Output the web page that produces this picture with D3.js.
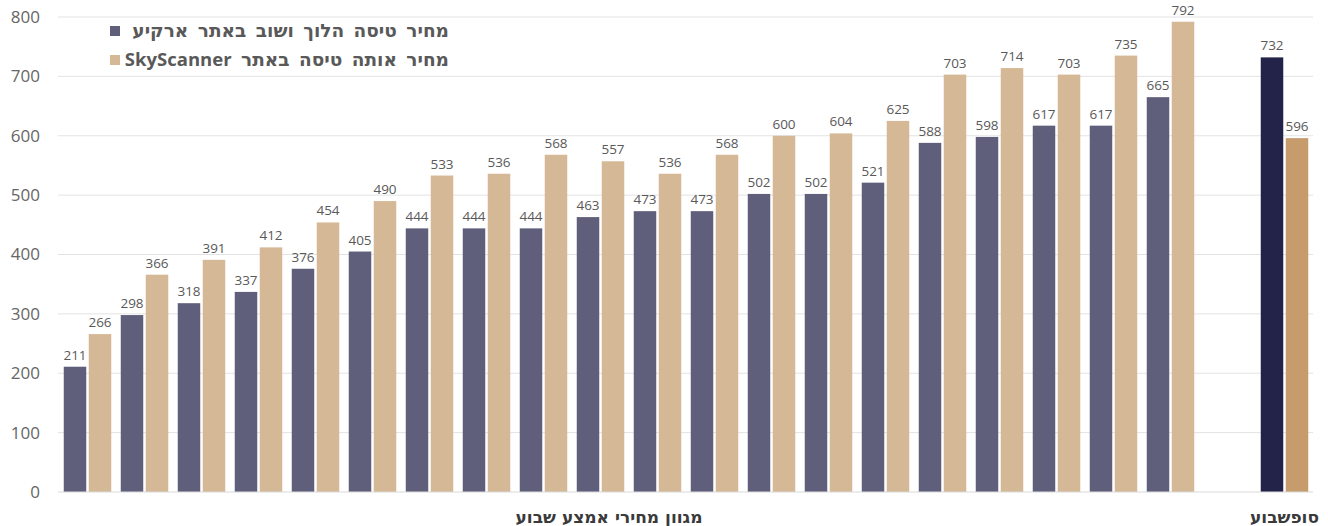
<!DOCTYPE html>
<html lang="he">
<head>
<meta charset="utf-8">
<script src="https://cdn.jsdelivr.net/npm/d3@7"></script>
<style>
  html, body { margin: 0; padding: 0; background: #fff; }
  svg { display: block; font-family: "Open Sans", "Liberation Sans", "DejaVu Sans", sans-serif; }
  .heb { font-family: "DejaVu Sans", "Open Sans", sans-serif; font-weight: bold; }
  .latin { font-family: "Open Sans", "Liberation Sans", sans-serif; font-weight: bold; }
</style>
</head>
<body>
<svg id="chart" width="1328" height="526"></svg>
<script>
// Price comparison: Arkia round-trip fare vs. the same flight on SkyScanner
const midweekArkia      = [211, 298, 318, 337, 376, 405, 444, 444, 444, 463, 473, 473, 502, 502, 521, 588, 598, 617, 617, 665];
const midweekSkyScanner = [266, 366, 391, 412, 454, 490, 533, 536, 568, 557, 536, 568, 600, 604, 625, 703, 714, 703, 735, 792];
const weekendArkia      = [732];
const weekendSkyScanner = [596];

const categoryLabels = ["מגוון מחירי אמצע שבוע", "סופשבוע"];
// Legend names split into Hebrew part and Latin brand part
const seriesNames = [
  { he: "מחיר טיסה הלוך ושוב באתר ארקיע", latin: "" },
  { he: "מחיר אותה טיסה באתר ", latin: "SkyScanner" }
];
const yTicks = [0, 100, 200, 300, 400, 500, 600, 700, 800];

const colors = {
  arkia: "#605f7b",
  sky: "#d5b996",
  weekendArkia: "#23234a",
  weekendSky: "#c69c6d"
};

// Slots along the x axis: 20 midweek groups, one empty slot, one weekend group
const groups = [];
midweekArkia.forEach((v, i) => groups.push({ slot: i, arkia: v, sky: midweekSkyScanner[i], weekend: false }));
const weekendSlot = midweekArkia.length + 1;
weekendArkia.forEach((v, i) => groups.push({ slot: weekendSlot + i, arkia: v, sky: weekendSkyScanner[i], weekend: true }));
const slotCount = weekendSlot + weekendArkia.length;

const svg = d3.select("#chart");
const plotLeft = 59, plotRight = 1313, plotTop = 17, plotBottom = 492;

const x = d3.scaleBand().domain(d3.range(slotCount)).range([plotLeft, plotRight]).paddingInner(0).paddingOuter(0);
const xInner = d3.scaleBand().domain(["arkia", "sky"]).range([0, x.bandwidth()]).paddingInner(0.1).paddingOuter(0.19);
const y = d3.scaleLinear().domain([0, 800]).range([plotBottom, plotTop]);

// Horizontal gridlines
svg.append("g")
  .selectAll("line")
  .data(yTicks.filter(t => t > 0))
  .join("line")
  .attr("x1", plotLeft - 1).attr("x2", plotRight)
  .attr("y1", d => y(d)).attr("y2", d => y(d))
  .attr("stroke", "#e3e3e3").attr("stroke-width", 1);

// Y axis labels
const yAxis = d3.axisLeft(y).tickValues(yTicks).tickSize(0).tickPadding(0);
const yg = svg.append("g").attr("transform", `translate(40,0)`).call(yAxis);
yg.select(".domain").remove();
yg.selectAll("text")
  .attr("font-size", 17).attr("fill", "#666")
  .attr("font-family", "'Open Sans', 'Liberation Sans', sans-serif");

// Bars
const barData = [];
groups.forEach(g => {
  barData.push({ slot: g.slot, key: "arkia", value: g.arkia, color: g.weekend ? colors.weekendArkia : colors.arkia });
  barData.push({ slot: g.slot, key: "sky", value: g.sky, color: g.weekend ? colors.weekendSky : colors.sky });
});

svg.append("g")
  .selectAll("rect")
  .data(barData)
  .join("rect")
  .attr("x", d => x(d.slot) + xInner(d.key))
  .attr("width", xInner.bandwidth())
  .attr("y", d => y(d.value))
  .attr("height", d => y(0) - y(d.value))
  .attr("fill", d => d.color);

// Value labels above bars
svg.append("g")
  .selectAll("text")
  .data(barData)
  .join("text")
  .attr("x", d => x(d.slot) + xInner(d.key) + xInner.bandwidth() / 2)
  .attr("y", d => y(d.value) - 7)
  .attr("text-anchor", "middle")
  .attr("font-size", 13.5)
  .attr("fill", "#595959")
  .text(d => d.value);

// Baseline
svg.append("line")
  .attr("x1", plotLeft - 1).attr("x2", plotRight)
  .attr("y1", y(0)).attr("y2", y(0))
  .attr("stroke", "#d9d9d9").attr("stroke-width", 1);

// Category labels under the axis
const midCenter = (x(0) + x(midweekArkia.length - 1) + x.bandwidth()) / 2 - 20;
const weekendCenter = x(weekendSlot) + x.bandwidth() / 2;
svg.append("g")
  .selectAll("text")
  .data([{ label: categoryLabels[0], cx: midCenter }, { label: categoryLabels[1], cx: weekendCenter }])
  .join("text")
  .attr("class", "heb")
  .attr("x", d => d.cx)
  .attr("y", 523)
  .attr("text-anchor", "middle")
  .attr("font-size", 17)
  .attr("fill", "#3a3a3a")
  .attr("direction", "rtl")
  .text(d => d.label);

// Legend: swatches in a column on the left, text right-aligned
const legend = svg.append("g");
const legendRight = 449, swatchX = 110;
const legendItems = [
  { name: seriesNames[0], color: colors.arkia, yy: 37 },
  { name: seriesNames[1], color: colors.sky, yy: 66 }
];
legendItems.forEach(item => {
  legend.append("rect")
    .attr("x", swatchX).attr("y", item.yy - 11)
    .attr("width", 10).attr("height", 10)
    .attr("fill", item.color);
  const t = legend.append("text")
    .attr("class", "heb")
    .attr("x", legendRight).attr("y", item.yy)
    .attr("direction", "rtl")
    .attr("text-anchor", "start")
    .attr("font-size", 18.5)
    .attr("word-spacing", 3)
    .attr("fill", "#595959");
  t.append("tspan").text(item.name.he);
  if (item.name.latin) {
    t.append("tspan").attr("class", "latin").attr("font-size", 18.5).text(item.name.latin);
  }
});
</script>
</body>
</html>
